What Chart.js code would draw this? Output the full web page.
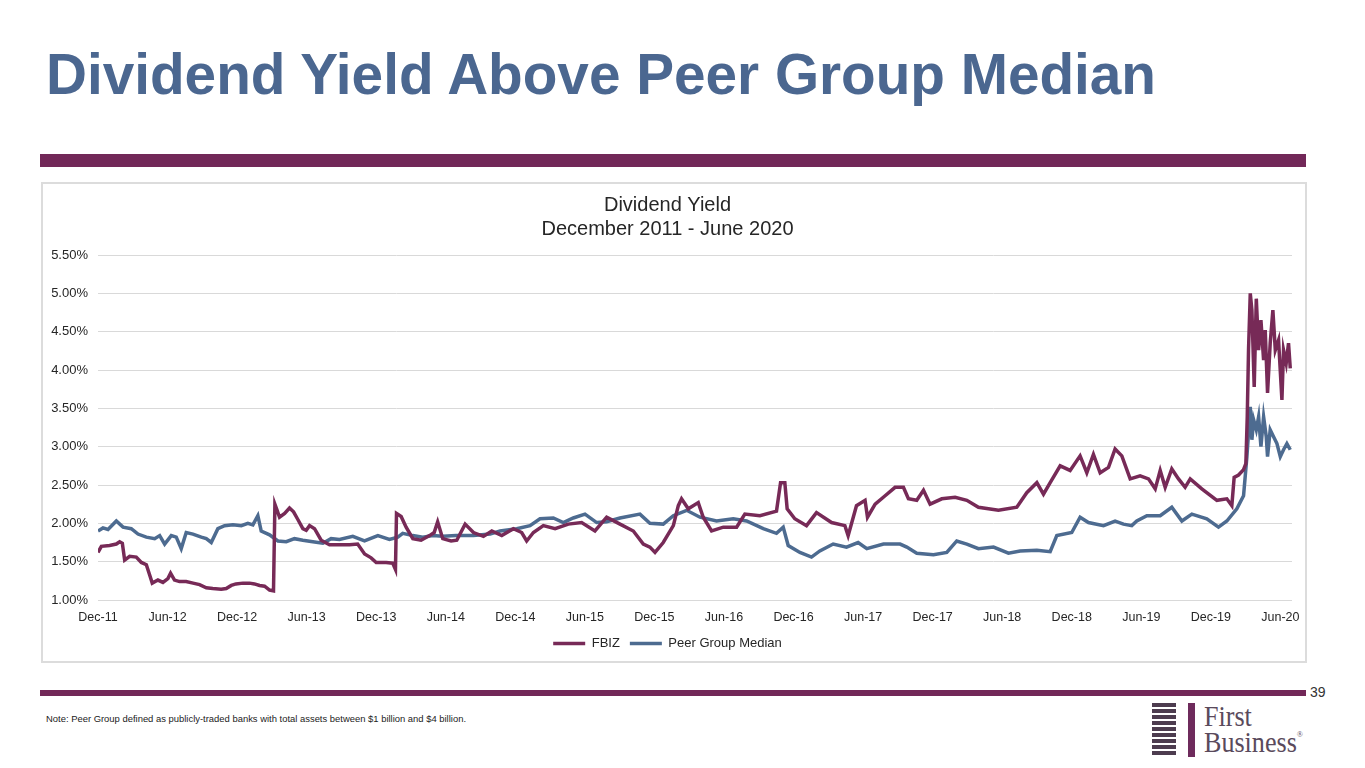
<!DOCTYPE html>
<html><head><meta charset="utf-8">
<script src="https://cdn.jsdelivr.net/npm/chart.js@4.4.1/dist/chart.umd.min.js"></script>
<style>
html,body{margin:0;padding:0;background:#fff;}
body{width:1365px;height:768px;position:relative;overflow:hidden;font-family:"Liberation Sans",Arial,sans-serif;}
#title{position:absolute;left:46px;top:46px;font-size:57px;line-height:57px;font-weight:bold;color:#4b6790;white-space:nowrap;transform-origin:0 0;}
#bar1{position:absolute;left:40px;top:154px;width:1266px;height:13px;background:#722858;}
#box{position:absolute;left:41px;top:182px;width:1266px;height:481px;box-sizing:border-box;border:2px solid #dcdcdc;}
#wrap{position:absolute;left:43px;top:184px;width:1262px;height:477px;}
#bar2{position:absolute;left:40px;top:690px;width:1266px;height:6px;background:#722858;}
#page{position:absolute;left:1310px;top:684px;font-size:14px;color:#333;}
#note{position:absolute;left:46px;top:714px;font-size:9px;color:#222;white-space:nowrap;transform-origin:0 0;}
#stripes{position:absolute;left:1152px;top:703px;width:24px;}
#stripes div{height:3.5px;margin-bottom:2.5px;background:#4d3c4f;}
#vbar{position:absolute;left:1188px;top:703px;width:7px;height:54px;background:#6e2b5c;}
#logo{position:absolute;left:1204px;top:703px;font-family:"Liberation Serif","DejaVu Serif",serif;font-size:29px;line-height:26px;color:#5a4a5c;transform-origin:0 0;transform:scaleX(0.9);}
#logo sup{font-size:9px;vertical-align:top;line-height:10px;}
</style>
</head><body>
<div id="title">Dividend Yield Above Peer Group Median</div>
<div id="bar1"></div>
<div id="box"></div>
<div id="wrap"><canvas id="c"></canvas></div>
<div id="bar2"></div>
<div id="page">39</div>
<div id="note">Note: Peer Group defined as publicly-traded banks with total assets between $1 billion and $4 billion.</div>
<div id="stripes"><div></div><div></div><div></div><div></div><div></div><div></div><div></div><div></div><div></div></div>
<div id="vbar"></div>
<div id="logo">First<br>Business<sup>®</sup></div>
<script>
const tickLabels = ['Dec-11','Jun-12','Dec-12','Jun-13','Dec-13','Jun-14','Dec-14','Jun-15','Dec-15','Jun-16','Dec-16','Jun-17','Dec-17','Jun-18','Dec-18','Jun-19','Dec-19','Jun-20'];

// months since Dec-2011
const fbizMonths = [0,0.29,1.0,1.58,1.87,2.1,2.3,2.73,3.3,3.74,4.17,4.45,4.68,5.17,5.6,6.03,6.26,6.6,7.04,7.6,8.2,8.76,9.34,9.9,10.63,11.06,11.5,11.9,12.5,13.07,13.5,13.94,14.37,14.8,15.14,15.26,15.43,15.66,16.1,16.52,16.87,17.24,17.67,17.96,18.25,18.68,19.25,19.97,20.83,21.7,22.4,23.0,23.56,24.0,24.86,25.43,25.66,25.75,26.15,26.58,27.16,27.87,28.6,29.0,29.3,29.74,30.46,30.95,31.67,32.39,33.25,33.97,34.83,35.83,36.55,36.98,37.56,38.42,39.43,40.57,41.72,42.87,43.88,45.03,46.18,47.04,47.61,48.05,48.76,49.63,50.06,50.34,50.92,51.78,52.21,52.93,53.94,55.09,55.8,57.1,58.53,58.88,59.25,59.45,60.11,61.12,61.98,63.28,64.43,64.71,65.43,66.17,66.38,67.04,67.9,68.76,69.48,69.91,70.63,71.21,71.78,72.79,73.94,74.95,75.95,77.68,79.26,80.12,80.99,81.56,82.14,83.0,83.86,84.72,85.3,85.87,86.45,87.17,87.74,88.32,89.04,89.9,90.62,91.2,91.63,92.06,92.63,93.21,93.78,94.22,95.22,96.52,97.38,97.81,98.01,98.39,98.82,99.02,99.14,99.25,99.4,99.54,99.74,99.92,100.12,100.32,100.55,100.69,100.89,101.12,101.35,101.56,101.84,102.13,102.27,102.5,102.7,102.85];
const fbizYield = [1.62,1.70,1.71,1.73,1.76,1.74,1.52,1.57,1.56,1.49,1.46,1.33,1.22,1.26,1.23,1.28,1.35,1.26,1.24,1.24,1.22,1.20,1.16,1.15,1.14,1.15,1.19,1.21,1.22,1.22,1.21,1.19,1.18,1.13,1.12,2.25,2.18,2.08,2.13,2.20,2.15,2.05,1.93,1.91,1.97,1.93,1.78,1.72,1.72,1.72,1.73,1.60,1.55,1.49,1.49,1.48,1.40,2.13,2.09,1.95,1.80,1.78,1.84,1.88,2.02,1.80,1.77,1.78,1.99,1.88,1.83,1.90,1.84,1.93,1.88,1.77,1.88,1.97,1.93,1.99,2.01,1.90,2.08,1.99,1.90,1.73,1.69,1.62,1.75,1.97,2.23,2.32,2.19,2.27,2.08,1.90,1.95,1.95,2.12,2.10,2.16,2.53,2.53,2.19,2.06,1.97,2.14,2.01,1.97,1.84,2.23,2.30,2.08,2.25,2.36,2.47,2.47,2.32,2.30,2.43,2.25,2.32,2.34,2.30,2.21,2.17,2.21,2.40,2.53,2.38,2.53,2.75,2.69,2.88,2.66,2.90,2.66,2.73,2.97,2.88,2.58,2.62,2.58,2.45,2.69,2.47,2.71,2.58,2.47,2.58,2.45,2.30,2.32,2.23,2.60,2.63,2.70,2.78,3.39,4.26,5.00,4.78,3.78,4.93,4.26,4.65,4.13,4.52,3.70,4.35,4.78,4.26,4.39,3.61,4.26,4.09,4.35,4.02];

const peerMonths = [0,0.43,0.86,1.58,2.16,2.87,3.45,4.17,4.89,5.32,5.75,6.32,6.75,7.18,7.61,8.19,8.91,9.34,9.77,10.34,10.92,11.64,12.36,12.93,13.36,13.79,14.08,14.8,15.52,16.24,16.95,17.67,18.53,19.4,20.11,20.83,21.98,22.99,24.14,25.14,25.86,26.29,27.16,28.02,28.88,29.74,30.89,32.39,33.82,34.68,36.12,37.27,38.13,39.28,40.14,41.0,42.01,43.02,43.88,45.03,46.75,47.61,48.76,49.63,50.78,51.93,53.36,54.8,55.95,57.39,58.53,59.11,59.54,60.55,61.55,62.27,63.42,64.57,65.57,66.32,67.76,69.19,69.77,70.63,72.07,73.22,74.08,74.95,75.95,77.25,78.54,79.55,80.99,82.14,82.71,84.0,84.72,85.44,86.74,87.74,88.46,89.18,89.61,90.48,91.63,92.63,93.5,94.36,95.65,96.66,97.38,98.24,98.82,99.11,99.4,99.54,99.69,99.92,100.12,100.32,100.55,100.78,100.89,101.12,101.41,101.7,101.99,102.27,102.56,102.85];
const peerYield = [1.90,1.94,1.92,2.03,1.95,1.93,1.86,1.82,1.80,1.84,1.73,1.84,1.82,1.67,1.88,1.86,1.82,1.80,1.75,1.93,1.97,1.98,1.97,2.00,1.98,2.10,1.90,1.85,1.77,1.76,1.80,1.78,1.76,1.74,1.80,1.79,1.83,1.77,1.84,1.79,1.82,1.87,1.84,1.82,1.84,1.83,1.84,1.84,1.86,1.90,1.93,1.97,2.06,2.07,2.01,2.07,2.12,2.01,2.02,2.07,2.12,2.00,1.99,2.10,2.17,2.08,2.03,2.06,2.03,1.93,1.87,1.95,1.71,1.62,1.56,1.64,1.73,1.69,1.75,1.67,1.73,1.73,1.69,1.61,1.59,1.62,1.77,1.73,1.67,1.69,1.61,1.64,1.65,1.63,1.84,1.88,2.08,2.01,1.97,2.03,1.99,1.97,2.03,2.10,2.10,2.21,2.03,2.12,2.06,1.95,2.03,2.19,2.36,2.87,3.52,3.09,3.35,3.22,3.39,3.00,3.39,3.13,2.87,3.22,3.13,3.04,2.87,2.96,3.04,2.96];

function fitWidth(id, target){
  const el = document.getElementById(id);
  const w = el.getBoundingClientRect().width;
  if (w > 0) el.style.transform = 'scaleX(' + (target / w) + ')';
}
fitWidth('title', 1110);
fitWidth('note', 420);

const toPts = (xs, ys) => xs.map((m, i) => ({x: m, y: ys[i]}));
const txt = '#262626';
const fam = '"Liberation Sans", Arial, sans-serif';

new Chart(document.getElementById('c'), {
  type: 'line',
  data: {
    datasets: [
      {label: 'FBIZ', data: toPts(fbizMonths, fbizYield), borderColor: '#772a57', backgroundColor: '#772a57', borderWidth: 3.5, pointRadius: 0, tension: 0},
      {label: 'Peer Group Median', data: toPts(peerMonths, peerYield), borderColor: '#4d6b90', backgroundColor: '#4d6b90', borderWidth: 3.5, pointRadius: 0, tension: 0}
    ]
  },
  options: {
    responsive: true,
    maintainAspectRatio: false,
    animation: false,
    layout: {padding: {left: 0, right: 13, top: 0, bottom: 1}},
    plugins: {
      title: {display: true, text: ['Dividend Yield', 'December 2011 - June 2020'], color: txt,
        font: {family: fam, size: 20, weight: 'normal', lineHeight: 24/20},
        padding: {top: 9, bottom: 14}},
      legend: {display: true, position: 'bottom',
        labels: {usePointStyle: true, pointStyle: 'line', pointStyleWidth: 32, padding: 10, color: txt,
          font: {family: fam, size: 13}}},
      tooltip: {enabled: false}
    },
    scales: {
      x: {
        type: 'linear', min: 0, max: 103,
        afterBuildTicks: s => { s.ticks = tickLabels.map((_, i) => ({value: i * 6})); },
        afterFit: s => { s.height = 27; s.paddingLeft = 0; s.paddingRight = 0; },
        grid: {display: false, drawTicks: false},
        border: {display: false},
        ticks: {autoSkip: false, maxRotation: 0, padding: 10, color: txt,
          font: {family: fam, size: 12.5},
          callback: v => tickLabels[Math.round(v / 6)]}
      },
      y: {
        min: 1, max: 5.5,
        afterFit: s => { s.width = 55; },
        grid: {color: '#d9d9d9', lineWidth: 1, drawTicks: false},
        border: {display: false},
        ticks: {stepSize: 0.5, padding: 10, color: txt,
          font: {family: fam, size: 13},
          callback: v => v.toFixed(2) + '%'}
      }
    }
  }
});
</script>
</body></html>
